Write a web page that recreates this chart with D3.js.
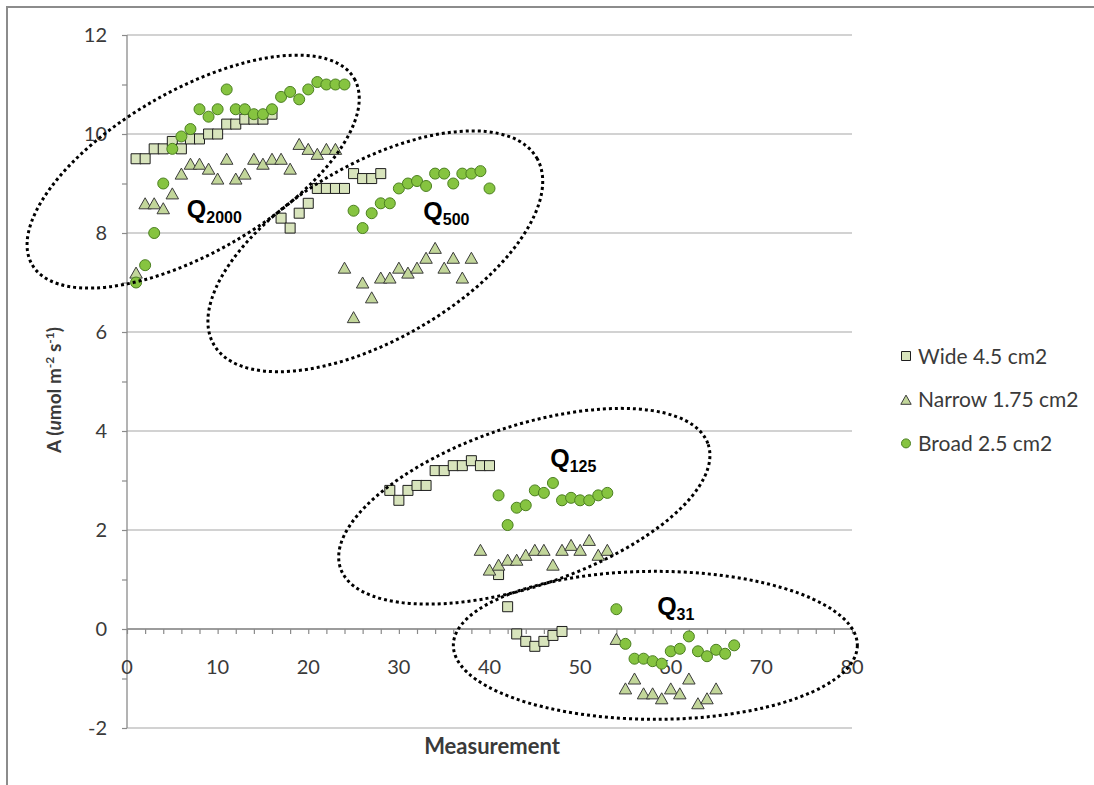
<!DOCTYPE html>
<html>
<head>
<meta charset="utf-8">
<script src="https://cdn.jsdelivr.net/npm/d3@7"></script>
<style>
  body { margin: 0; background: #fff; }
  svg { display: block; }
  .ui { font-family: Lato, "Open Sans", "Liberation Sans", sans-serif; }
  .qlabel { font-family: "Liberation Sans", Arial, sans-serif; }
</style>
</head>
<body>
<svg id="chart" width="1094" height="785"></svg>
<script>
// Net assimilation per measurement, three leaf types (measurements numbered from 1)
const firstMeasurement = 1;
const wideValues = [
  9.5, 9.5, 9.7, 9.7, 9.85, 9.7, 9.9, 9.9, 10.0, 10.0, 10.2, 10.2, 10.3, 10.3, 10.3, 10.4,
  8.3, 8.1, 8.4, 8.6, 8.9, 8.9, 8.9, 8.9, 9.2, 9.1, 9.1, 9.2,
  2.8, 2.6, 2.8, 2.9, 2.9, 3.2, 3.2, 3.3, 3.3, 3.4, 3.3, 3.3,
  1.1, 0.45, -0.1, -0.25, -0.35, -0.25, -0.13, -0.05
];
const narrowValues = [
  7.2, 8.6, 8.6, 8.5, 8.8, 9.2, 9.4, 9.4, 9.3, 9.1, 9.5, 9.1, 9.2, 9.5, 9.4, 9.5, 9.5, 9.3, 9.8, 9.7, 9.6, 9.7, 9.7,
  7.3, 6.3, 7.0, 6.7, 7.1, 7.1, 7.3, 7.2, 7.3, 7.5, 7.7, 7.3, 7.5, 7.1, 7.5,
  1.6, 1.2, 1.3, 1.4, 1.4, 1.5, 1.6, 1.6, 1.3, 1.6, 1.7, 1.6, 1.8, 1.5, 1.6,
  -0.2, -1.2, -1.0, -1.3, -1.3, -1.4, -1.2, -1.3, -1.0, -1.5, -1.4, -1.2
];
const broadValues = [
  7.0, 7.35, 8.0, 9.0, 9.7, 9.95, 10.1, 10.5, 10.35, 10.5, 10.9, 10.5, 10.5, 10.4, 10.4, 10.5,
  10.75, 10.85, 10.7, 10.9, 11.05, 11.0, 11.0, 11.0,
  8.45, 8.1, 8.4, 8.6, 8.6, 8.9, 9.0, 9.05, 8.95, 9.2, 9.2, 9.0, 9.2, 9.2, 9.25, 8.9,
  2.7, 2.1, 2.45, 2.5, 2.8, 2.75, 2.95, 2.6, 2.65, 2.6, 2.6, 2.7, 2.75,
  0.4, -0.3, -0.6, -0.6, -0.65, -0.7, -0.45, -0.4, -0.15, -0.45, -0.55, -0.42, -0.5, -0.33
];
const seriesNames = ["Wide 4.5 cm2", "Narrow 1.75 cm2", "Broad 2.5 cm2"];
const xTickValues = [0, 10, 20, 30, 40, 50, 60, 70, 80];
const yTickValues = [-2, 0, 2, 4, 6, 8, 10, 12];
const lightLevels = ["2000", "500", "125", "31"];

// Layout and styling
const W = 1094, H = 785;
const plot = { left: 127, top: 35, right: 852, bottom: 728 };
const svg = d3.select("#chart");

const x = d3.scaleLinear().domain([0, 80]).range([plot.left, plot.right]);
const y = d3.scaleLinear().domain([-2, 12]).range([plot.bottom, plot.top]);

const axisColor = "#8a8a8a";
const gridColor = "#a6a6a6";
const textColor = "#3a3a3a";

// outer chart frame (top and left edges visible)
svg.append("path")
  .attr("d", `M7,${H} L7,7 L${W},7`)
  .attr("fill", "none").attr("stroke", "#8c8c8c").attr("stroke-width", 2);

// horizontal gridlines
svg.append("g").selectAll("line").data(yTickValues).join("line")
  .attr("x1", plot.left).attr("x2", plot.right)
  .attr("y1", d => y(d)).attr("y2", d => y(d))
  .attr("stroke", gridColor).attr("stroke-width", 1.2);

// y axis: line with ticks at every unit
const yAxis = d3.axisLeft(y).tickValues(d3.range(-2, 12.01, 1)).tickSize(5).tickFormat("");
const gy = svg.append("g").attr("transform", `translate(${plot.left},0)`).call(yAxis);
gy.select(".domain").attr("stroke", axisColor).attr("stroke-width", 1.3).attr("d", `M0,${plot.top}V${plot.bottom}`);
gy.selectAll(".tick line").attr("stroke", axisColor).attr("stroke-width", 1.2);

svg.append("g").attr("class", "ui").selectAll("text").data(yTickValues).join("text")
  .attr("x", plot.left - 20).attr("y", d => y(d))
  .attr("dy", "0.36em").attr("text-anchor", "end")
  .attr("font-size", 20).attr("fill", textColor)
  .text(d => d);

// x axis crossing at zero, minor ticks every 2
const xAxis = d3.axisBottom(x).tickValues(d3.range(0, 80.01, 2)).tickSize(5).tickFormat("");
const gx = svg.append("g").attr("transform", `translate(0,${y(0)})`).call(xAxis);
gx.select(".domain").attr("stroke", axisColor).attr("stroke-width", 1.3).attr("d", `M${plot.left},0H${plot.right}`);
gx.selectAll(".tick line").attr("stroke", axisColor).attr("stroke-width", 1.2);

svg.append("g").attr("class", "ui").selectAll("text").data(xTickValues).join("text")
  .attr("x", d => x(d)).attr("y", y(0) + 38)
  .attr("dy", "0.36em").attr("text-anchor", "middle")
  .attr("font-size", 20).attr("fill", textColor)
  .text(d => d);

// axis titles
svg.append("text").attr("class", "ui")
  .attr("x", 492).attr("y", 746)
  .attr("dy", "0.36em").attr("text-anchor", "middle")
  .attr("font-size", 22).attr("font-weight", "bold").attr("fill", textColor)
  .text("Measurement");

const yTitle = svg.append("text").attr("class", "ui")
  .attr("transform", "translate(61,390) rotate(-90)")
  .attr("text-anchor", "middle")
  .attr("font-size", 19).attr("font-weight", "bold").attr("fill", textColor);
yTitle.append("tspan").text("A (");
yTitle.append("tspan").attr("font-style", "italic").text("u");
yTitle.append("tspan").text("mol m");
yTitle.append("tspan").attr("font-size", 12).attr("dy", -7).text("-2");
yTitle.append("tspan").attr("dy", 7).text(" s");
yTitle.append("tspan").attr("font-size", 12).attr("dy", -7).text("-1");
yTitle.append("tspan").attr("dy", 7).text(")");

// marker shapes
const shapes = {
  square: s => `M${-s/2},${-s/2}h${s}v${s}h${-s}Z`,
  triangle: s => `M0,${-s*0.46}L${s*0.52},${s*0.46}L${-s*0.52},${s*0.46}Z`
};

const series = [
  { name: seriesNames[0], values: wideValues, kind: "square", fill: "#d8e4bc", stroke: "#1e1e1e", size: 10 },
  { name: seriesNames[1], values: narrowValues, kind: "triangle", fill: "#c2d69a", stroke: "#3b3b3b", size: 12 },
  { name: seriesNames[2], values: broadValues, kind: "circle", fill: "#86c440", stroke: "#4b7f20", size: 11 }
];

const marks = svg.append("g");
series.forEach(s => {
  const pts = s.values.map((v, i) => ({ m: firstMeasurement + i, v }));
  const g = marks.append("g");
  if (s.kind === "circle") {
    g.selectAll("circle").data(pts).join("circle")
      .attr("cx", d => x(d.m)).attr("cy", d => y(d.v)).attr("r", s.size / 2)
      .attr("fill", s.fill).attr("stroke", s.stroke).attr("stroke-width", 1);
  } else {
    g.selectAll("path").data(pts).join("path")
      .attr("transform", d => `translate(${x(d.m)},${y(d.v)})`)
      .attr("d", shapes[s.kind](s.size))
      .attr("fill", s.fill).attr("stroke", s.stroke).attr("stroke-width", 1);
  }
});

// dotted ellipses grouping each light level, with their labels
const groupAnnotations = [
  { level: lightLevels[0], cx: 7.3,  cy: 9.24,  rx: 186,   ry: 81, angle: -30,  lx: 6.6,  ly: 8.3 },
  { level: lightLevels[1], cx: 27.4, cy: 7.63,  rx: 186.5, ry: 88, angle: -30,  lx: 32.7, ly: 8.26 },
  { level: lightLevels[2], cx: 43.84, cy: 2.48, rx: 194,   ry: 80, angle: -18.6, lx: 46.7, ly: 3.27 },
  { level: lightLevels[3], cx: 58.3, cy: -0.33, rx: 202,   ry: 74, angle: 0,    lx: 58.5, ly: 0.29 }
];

const ann = svg.append("g");
ann.selectAll("ellipse").data(groupAnnotations).join("ellipse")
  .attr("transform", d => `translate(${x(d.cx)},${y(d.cy)}) rotate(${d.angle})`)
  .attr("rx", d => d.rx).attr("ry", d => d.ry)
  .attr("fill", "none").attr("stroke", "#000")
  .attr("stroke-width", 3).attr("stroke-dasharray", "3 3");

const labels = ann.selectAll("text").data(groupAnnotations).join("text")
  .attr("class", "qlabel")
  .attr("x", d => x(d.lx)).attr("y", d => y(d.ly))
  .attr("fill", "#000");
labels.append("tspan").attr("font-size", 25).attr("font-weight", "bold").text("Q");
labels.append("tspan").attr("font-size", 16).attr("font-weight", "bold").attr("dy", 5).text(d => d.level);

// legend
const legend = svg.append("g").attr("transform", "translate(906,356)");
const li = legend.selectAll("g").data(series).join("g")
  .attr("transform", (d, i) => `translate(0,${i * 43.7})`);
li.each(function(s) {
  const g = d3.select(this);
  if (s.kind === "circle") {
    g.append("circle").attr("r", 4.5).attr("fill", s.fill).attr("stroke", s.stroke);
  } else {
    g.append("path").attr("d", shapes[s.kind](s.kind === "square" ? 9 : 10))
      .attr("fill", s.fill).attr("stroke", s.stroke).attr("stroke-width", 1);
  }
  g.append("text").attr("class", "ui").attr("x", 12).attr("dy", "0.36em")
    .attr("font-size", 21).attr("fill", textColor).text(s.name);
});
</script>
</body>
</html>
